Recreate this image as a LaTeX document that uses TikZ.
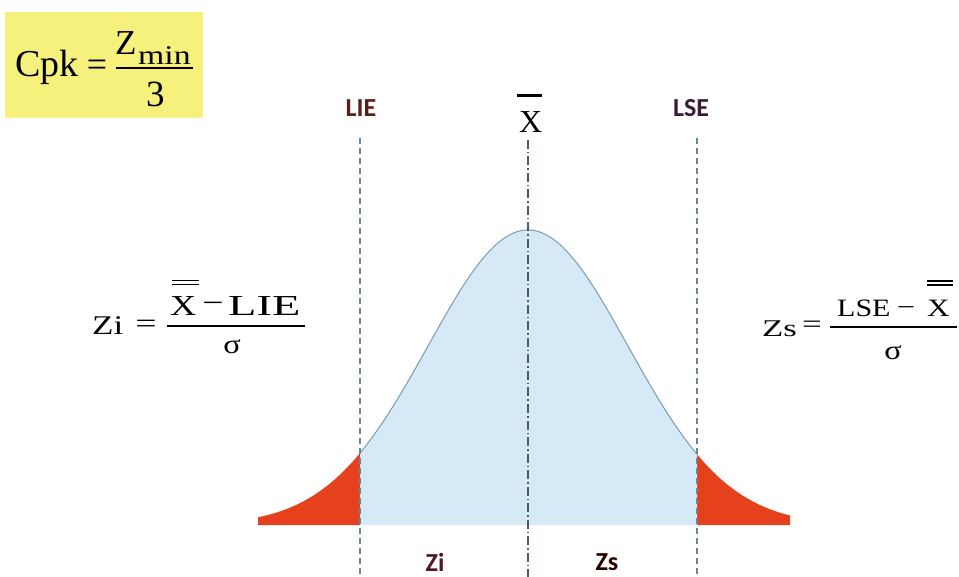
\documentclass[tikz,border=0pt]{standalone}
\usepackage{fontspec}
\setmainfont{Liberation Serif}
\newfontfamily\lblfont{Carlito}
\definecolor{boxyellow}{HTML}{F6F07C}
\definecolor{bellblue}{HTML}{D5EAF6}
\definecolor{bellline}{HTML}{7C9CAC}
\definecolor{tailred}{HTML}{E5411D}
\definecolor{guide}{HTML}{6A8595}
\definecolor{liecol}{HTML}{5A1E1E}
\definecolor{lsecol}{HTML}{3B1B33}
\definecolor{zicol}{HTML}{4A1A2A}
\newcommand{\wide}[2]{\scalebox{#1}[1]{#2}}
\tikzset{
  lbl/.style={font=\lblfont\bfseries\fontsize{26}{30}\selectfont, inner sep=0pt},
  ftxt/.style={inner sep=0pt, anchor=base west},
  fbar/.style={line width=1.6pt, line cap=butt},
  obar/.style={line width=1.5pt},
  guideline/.style={draw=guide, line width=1.2pt, dash pattern=on 6pt off 4pt},
  meanline/.style={draw=guide!70!black, line width=1.2pt, dash pattern=on 9pt off 3pt on 1.5pt off 3pt},
}
\newcommand{\bell}[1]{525-295*exp(-((#1-528)/100)^2/2)}
\begin{document}
\begin{tikzpicture}[x=1pt,y=-1pt]
\useasboundingbox (0,0) rectangle (959,577);
% Cpk box
\node[fill=boxyellow, minimum width=198pt, minimum height=106pt, anchor=north west, inner sep=0pt] (cpkbox) at (5,12) {};
\node[ftxt, font=\fontsize{38}{42}\selectfont] (cpk) at (15,77) {Cpk};
\node[inner sep=0pt, font=\fontsize{36}{40}\selectfont] (cpkeq) at (97,68) {=};
\node[ftxt, font=\fontsize{35}{40}\selectfont] (zmin) at (115,55) {Z};
\node[ftxt, font=\fontsize{27}{30}\selectfont] (minsub) at (138,65) {\wide{1.25}{min}};
\draw[fbar, line width=2pt] (116,68) -- (193,68);
\node[ftxt, font=\fontsize{37}{40}\selectfont] (three) at (146,107) {3};
% bell fills
\fill[tailred] (258,525) -- plot[domain=258:360, samples=60] (\x,{\bell{\x}}) -- (360,525) -- cycle;
\fill[tailred] (697,525) -- plot[domain=697:790, samples=60] (\x,{\bell{\x}}) -- (790,525) -- cycle;
\fill[bellblue] (360,525) -- plot[domain=360:697, samples=150] (\x,{\bell{\x}}) -- (697,525) -- cycle;
\draw[bellline, line width=1pt] plot[domain=360:697, samples=150] (\x,{\bell{\x}});
% labels
\node[lbl, text=liecol] (lie) at (361,108) {LIE};
\node[lbl, text=lsecol] (lse) at (691,108) {LSE};
\node[ftxt, font=\fontsize{32}{36}\selectfont] (xbar) at (519,133) {X};
\draw[line width=2.8pt] (517,95.5) -- (542,95.5);
\node[lbl, text=zicol] (zi) at (435,562) {Zi};
\node[lbl, text=black!85!red] (zs) at (607,562) {Zs};
% guide lines
\coordinate (lietop) at (360,138); \coordinate (liebot) at (360,577);
\coordinate (lsetop) at (697,138); \coordinate (lsebot) at (697,577);
\coordinate (meantop) at (528,140); \coordinate (meanbot) at (528,577);
\draw[guideline] (lietop) -- (liebot);
\draw[guideline] (lsetop) -- (lsebot);
\draw[meanline] (meantop) -- (meanbot);
% Zi formula
\node[ftxt, font=\fontsize{27}{30}\selectfont] (zilhs) at (92,335) {\wide{1.3}{Zi}};
\node[inner sep=0pt, font=\fontsize{27}{30}\selectfont] (zieq) at (146,326) {\wide{1.4}{=}};
\draw[fbar] (167,326) -- (305,326);
\node[ftxt, font=\fontsize{29}{32}\selectfont] (zix) at (170,316) {\wide{1.25}{X}};
\draw[obar] (172,280.5) -- (199,280.5);
\draw[obar] (172,284.5) -- (199,284.5);
\node[inner sep=0pt, font=\fontsize{29}{32}\selectfont] (ziminus) at (213,307) {\wide{1.3}{−}};
\node[ftxt, font=\fontsize{29}{32}\selectfont] (zilie) at (228,316) {\wide{1.6}{LIE}};
\node[inner sep=0pt, font=\fontsize{27}{30}\selectfont] (zisig) at (232,347) {\wide{1.2}{σ}};
% Zs formula
\node[ftxt, font=\fontsize{24}{28}\selectfont] (zslhs) at (762,337) {\wide{1.45}{Zs}};
\node[inner sep=0pt, font=\fontsize{25}{28}\selectfont] (zseq) at (812,327) {\wide{1.4}{=}};
\draw[fbar] (830,327) -- (957,327);
\node[ftxt, font=\fontsize{25}{28}\selectfont] (zslse) at (837,317) {\wide{1.2}{LSE}};
\node[inner sep=0pt, font=\fontsize{25}{28}\selectfont] (zsminus) at (906,311) {\wide{1.3}{−}};
\node[ftxt, font=\fontsize{25}{28}\selectfont] (zsx) at (927,317) {\wide{1.25}{X}};
\draw[obar] (927,281) -- (953,281);
\draw[obar] (927,285) -- (953,285);
\node[inner sep=0pt, font=\fontsize{27}{30}\selectfont] (zssig) at (893,353) {\wide{1.2}{σ}};
\end{tikzpicture}
\end{document}
